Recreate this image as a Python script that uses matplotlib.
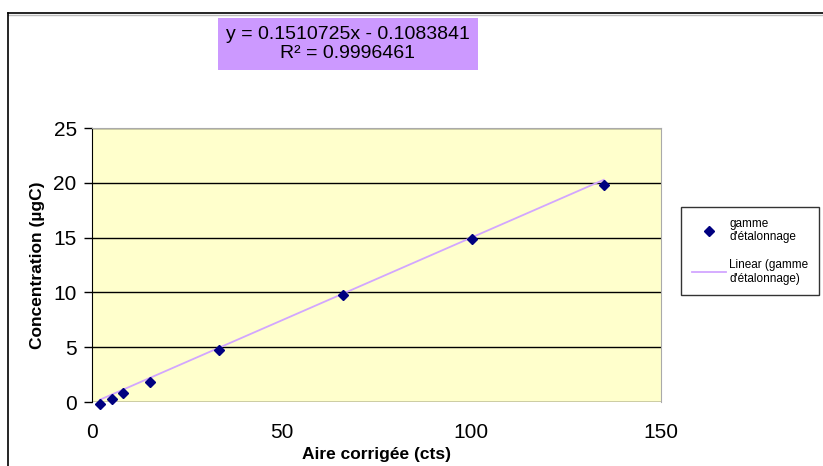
import numpy as np
import matplotlib.pyplot as plt
from matplotlib.lines import Line2D
from matplotlib.patches import Rectangle

plt.rcParams['font.family'] = ['Liberation Sans', 'DejaVu Sans']

# calibration points
aire = [2.1, 5.2, 8.3, 15.3, 33.6, 66.2, 100.2, 134.9]
conc = [-0.18, 0.25, 0.85, 1.82, 4.74, 9.8, 14.9, 19.8]
slope = 0.1510725
intercept = -0.1083841
r2 = 0.9996461

yticks = [0, 5, 10, 15, 20, 25]
xticks = [0, 50, 100, 150]

fig = plt.figure(figsize=(8.23, 4.66), dpi=100)
fig.patch.set_facecolor('white')

# outer chart frame
fig.add_artist(Line2D([8 / 823, 1.0], [1 - 13 / 466, 1 - 13 / 466], color='black', lw=1.2))
fig.add_artist(Line2D([8 / 823, 1.0], [1 - 15 / 466, 1 - 15 / 466], color='#bbbbbb', lw=1.0))
fig.add_artist(Line2D([8 / 823, 8 / 823], [0, 1 - 13 / 466], color='black', lw=1.2))

ax = fig.add_axes([92 / 823, 1 - 402 / 466, (661 - 92) / 823, (402 - 128) / 466])
ax.set_facecolor('#ffffcc')
ax.set_xlim(0, 150)
ax.set_ylim(0, 25)
ax.set_xticks(xticks)
ax.set_yticks(yticks)
ax.tick_params(labelsize=15, direction='out', length=6, width=1)
ax.tick_params(axis='x', length=0, pad=15)
ax.tick_params(axis='y', pad=5)
ax.yaxis.grid(True, color='black', lw=1)
ax.set_axisbelow(True)
for side in ['top', 'right']:
    ax.spines[side].set_color('#aaaaaa')
ax.spines['left'].set_color('black')
ax.spines['bottom'].set_visible(False)

xs = np.array([aire[0], aire[-1]])
ax.plot(xs, slope * xs + intercept, color='#d2a6ff', lw=1.3, clip_on=False,
        label="Linear (gamme\nd'étalonnage)", zorder=3)
ax.plot(aire, conc, linestyle='none', marker='D', markersize=5, color='#000080',
        clip_on=False, label="gamme\nd'étalonnage", zorder=4)

ax.set_xlabel('Aire corrigée (cts)', fontsize=12.5, fontweight='bold', labelpad=4)
ax.set_ylabel('Concentration (µgC)', fontsize=12.5, fontweight='bold', labelpad=6)

handles, labels = ax.get_legend_handles_labels()
leg = fig.legend(handles[::-1], labels[::-1], loc='upper left',
                 bbox_to_anchor=(681 / 823, 1 - 207 / 466), fontsize=8.5,
                 frameon=True, fancybox=False, edgecolor='black',
                 handlelength=2.9, handletextpad=0.3, labelspacing=1.3,
                 borderpad=0.9, borderaxespad=0)
leg.get_frame().set_linewidth(1)

# equation box
fig.add_artist(Rectangle((218 / 823, 1 - 70 / 466), (478 - 218) / 823, 52 / 466,
                         transform=fig.transFigure, facecolor='#cc99ff',
                         edgecolor='none'))
fig.text(348 / 823, 1 - 44 / 466,
         'y = 0.1510725x - 0.1083841\nR² = %.7f' % r2,
         ha='center', va='center', fontsize=14, linespacing=1.2)

fig.savefig('out.png', dpi=100)
